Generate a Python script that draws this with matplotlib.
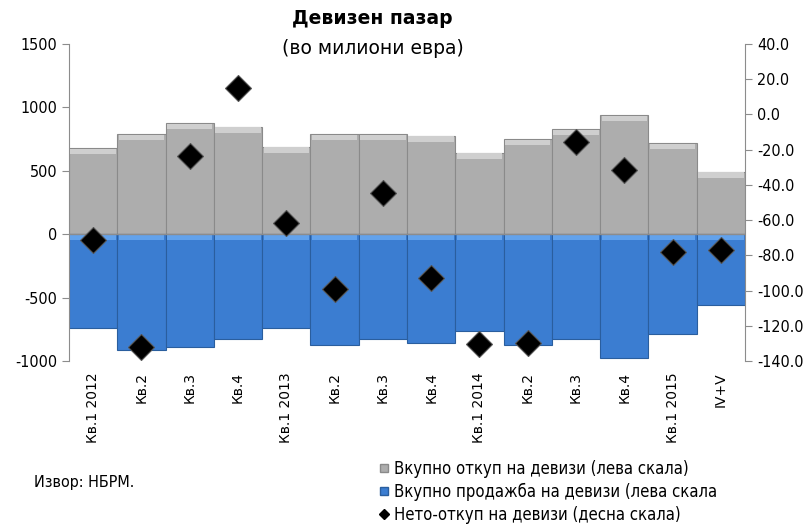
import numpy as np
import matplotlib
matplotlib.use('Agg')
import matplotlib.pyplot as plt
from matplotlib.lines import Line2D

plt.rcParams['axes.unicode_minus'] = False

# ==================== DATA ====================
categories = ['Кв.1 2012', 'Кв.2', 'Кв.3', 'Кв.4',
              'Кв.1 2013', 'Кв.2', 'Кв.3', 'Кв.4',
              'Кв.1 2014', 'Кв.2', 'Кв.3', 'Кв.4',
              'Кв.1 2015', 'IV+V']
purchases = [677, 787, 874, 847, 689, 787, 787, 776, 642, 750, 829, 939, 716, 492]
sales = [-740, -914, -893, -829, -740, -874, -829, -858, -763, -876, -825, -973, -789, -555]
net = [-71.3, -131.9, -23.4, 14.8, -61.8, -99.3, -44.8, -93.0, -130.5, -130.0, -15.5, -31.5, -78.2, -77.0]

lbl_buy = 'Вкупно откуп на девизи (лева скала)'
lbl_sell = 'Вкупно продажба на девизи (лева скала'
lbl_net = 'Нето-откуп на девизи (десна скала)'
# ==============================================

gray = '#ADADAD'
gray_edge = '#8A8A8A'
blue = '#3B7DD1'
blue_edge = '#2A5E9E'
axis_col = '#8C8C8C'
cond = {'family': 'DejaVu Sans', 'stretch': 'condensed'}

fig = plt.figure(figsize=(8.11, 5.26), dpi=100)
ax = fig.add_axes([69/811, 1-361/526, (745-69)/811, (361-44)/526])
x = np.arange(len(categories))

ax.bar(x, purchases, width=1.0, color=gray, edgecolor=gray_edge, linewidth=0.8, zorder=2)
ax.bar(x, sales, width=1.0, color=blue, edgecolor=blue_edge, linewidth=0.8, zorder=2)
# light bevel strips along the top of each bar
ax.bar(x, [40]*len(x), bottom=np.array(purchases)-45, width=0.94, color='#CFCFCF', linewidth=0, zorder=3)
ax.bar(x, [-40]*len(x), bottom=-5, width=0.94, color='#62A2EC', linewidth=0, zorder=3)
ax.axhline(0, color=axis_col, lw=1, zorder=4)

ax.set_xlim(-0.5, len(x)-0.5)
ax.set_ylim(-1000, 1500)
ax.set_yticks([-1000, -500, 0, 500, 1000, 1500])
ax.set_xticks(x)
ax.set_xticklabels(categories, rotation=90, fontsize=10, family='DejaVu Sans')
ax.tick_params(axis='x', length=0, pad=8)
ax.tick_params(axis='y', colors=axis_col, labelcolor='black', length=5, labelsize=11.5)
for t in ax.get_yticklabels():
    t.set_fontstretch('condensed')
for s in ['top', 'bottom', 'right']:
    ax.spines[s].set_visible(False)
ax.spines['left'].set_color(axis_col)

ax2 = ax.twinx()
ax2.plot(x, net, linestyle='none', marker='D', markersize=13, color='black',
         markeredgecolor='#555555', markeredgewidth=0.8, zorder=5)
ax2.set_ylim(-140, 40)
ax2.set_yticks(np.arange(-140, 41, 20))
ax2.set_yticklabels([f'{v:.1f}' for v in np.arange(-140, 41, 20)])
ax2.tick_params(axis='y', colors=axis_col, labelcolor='black', length=5, labelsize=11.5)
for t in ax2.get_yticklabels():
    t.set_fontstretch('condensed')
for s in ['top', 'bottom', 'left']:
    ax2.spines[s].set_visible(False)
ax2.spines['right'].set_color(axis_col)

fig.text(372/811, 1-19/526, 'Девизен пазар', ha='center', va='center',
         fontsize=13.5, fontweight='bold', family='DejaVu Sans')
fig.text(373/811, 1-49/526, '(во милиони евра)', ha='center', va='center',
         fontsize=13.5, family='DejaVu Sans')
fig.text(34/811, 1-482/526, 'Извор: НБРМ.', ha='left', va='center', fontsize=11.5, **cond)

handles = [Line2D([], [], linestyle='none', marker='s', markersize=6, color=gray, markeredgecolor=gray_edge),
           Line2D([], [], linestyle='none', marker='s', markersize=6, color=blue, markeredgecolor=blue_edge),
           Line2D([], [], linestyle='none', marker='D', markersize=5, color='black')]
fig.legend(handles, [lbl_buy, lbl_sell, lbl_net], loc='upper left',
           bbox_to_anchor=(372/811, 1-453/526), frameon=False, handlelength=0.6,
           handletextpad=0.3, labelspacing=0.3, borderaxespad=0,
           prop={'family': 'DejaVu Sans', 'stretch': 'condensed', 'size': 12})

fig.savefig('out.png', dpi=100)
